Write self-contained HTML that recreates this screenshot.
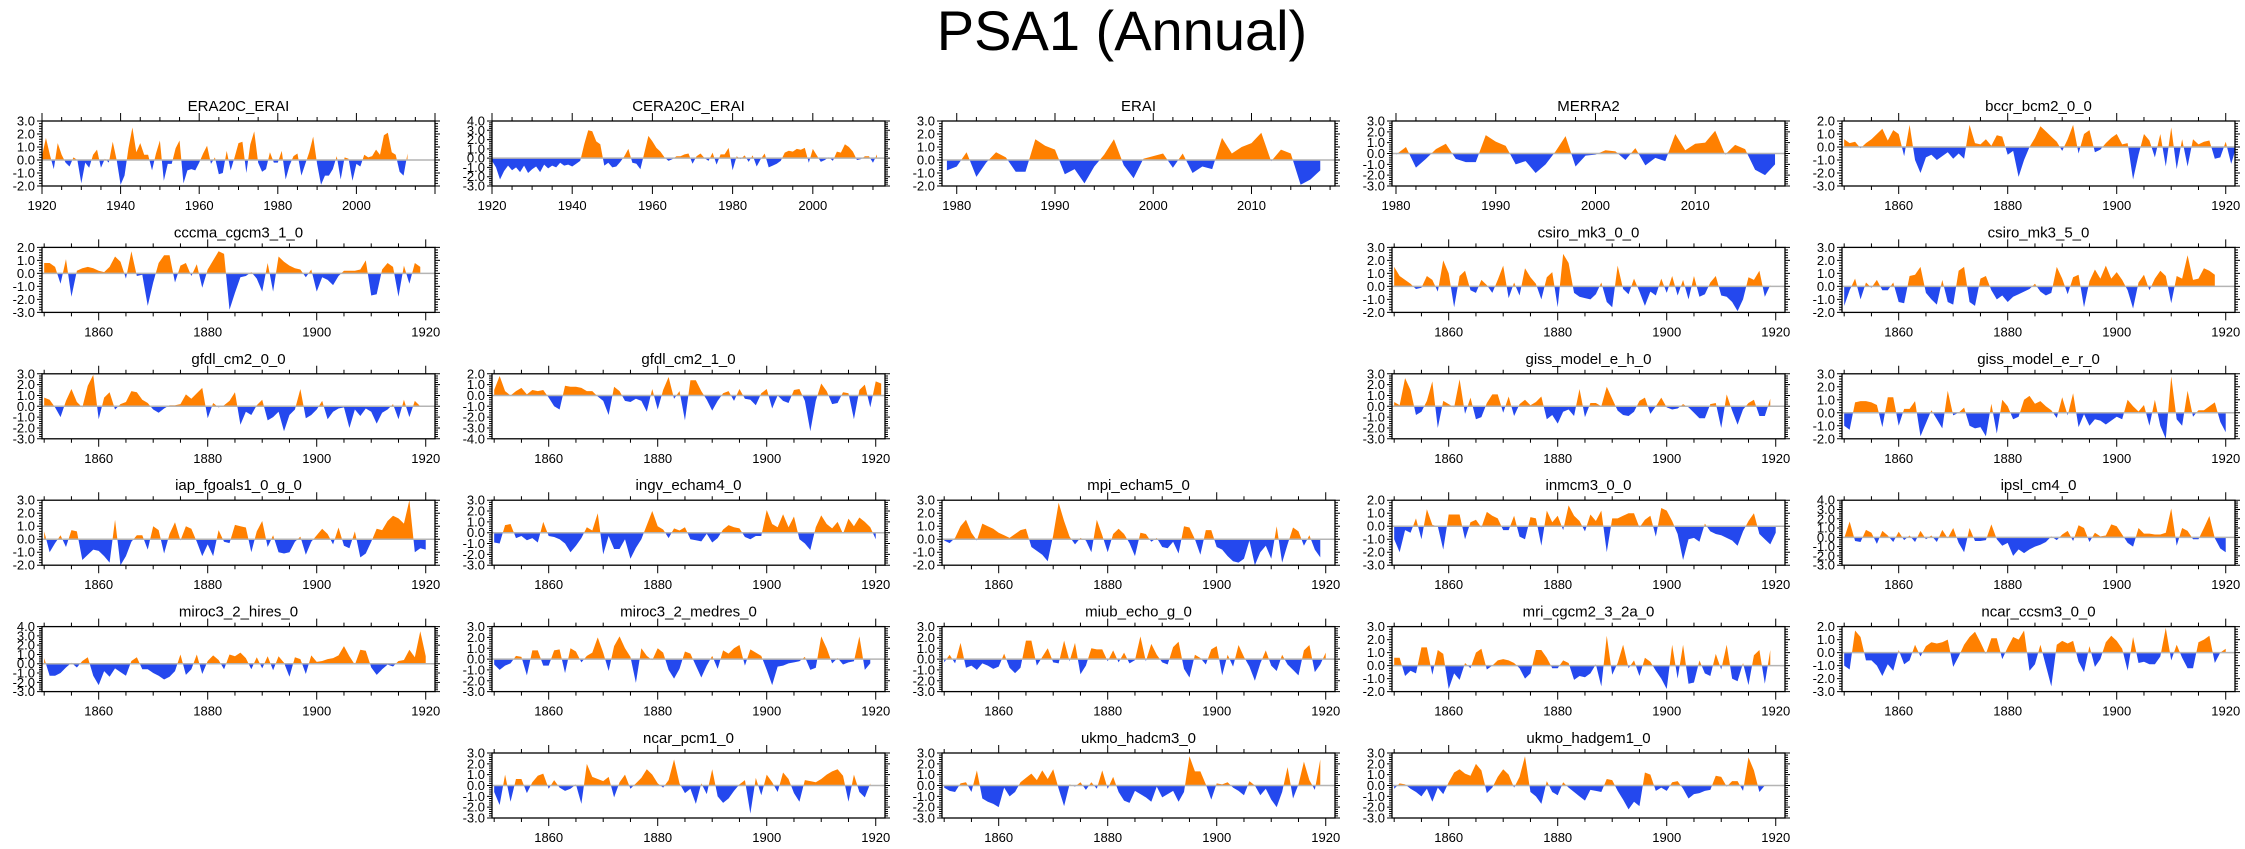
<!DOCTYPE html>
<html><head><meta charset="utf-8"><title>PSA1 (Annual)</title>
<style>html,body{margin:0;padding:0;background:#fff;}svg{display:block;font-family:"Liberation Sans",sans-serif;}</style>
</head><body>
<svg id="fig" width="2245" height="849" viewBox="0 0 2245 849" xmlns="http://www.w3.org/2000/svg">
<text x="1122" y="50" text-anchor="middle" font-size="56" fill="#000">PSA1 (Annual)</text>
</svg>
<script>
const panelTitles = ["ERA20C_ERAI","CERA20C_ERAI","ERAI","MERRA2","bccr_bcm2_0_0","cccma_cgcm3_1_0","csiro_mk3_0_0","csiro_mk3_5_0","gfdl_cm2_0_0","gfdl_cm2_1_0","giss_model_e_h_0","giss_model_e_r_0","iap_fgoals1_0_g_0","ingv_echam4_0","mpi_echam5_0","inmcm3_0_0","ipsl_cm4_0","miroc3_2_hires_0","miroc3_2_medres_0","miub_echo_g_0","mri_cgcm2_3_2a_0","ncar_ccsm3_0_0","ncar_pcm1_0","ukmo_hadcm3_0","ukmo_hadgem1_0"];
const panelRows = [0,0,0,0,0,1,1,1,2,2,2,2,3,3,3,3,3,4,4,4,4,4,5,5,5];
const panelCols = [0,1,2,3,4,0,3,4,0,1,3,4,0,1,2,3,4,0,1,2,3,4,1,2,3];
const startYears = [1920,1920,1979,1980,1850,1850,1850,1850,1850,1850,1850,1850,1850,1850,1850,1850,1850,1850,1850,1850,1850,1850,1850,1850,1850];
const yMax = [3,4,3,3,2,2,3,3,3,2,3,3,3,3,3,2,4,4,3,3,3,2,3,3,3];
const yMin = [-2,-3,-2,-3,-3,-3,-2,-2,-3,-4,-3,-2,-2,-3,-2,-3,-3,-3,-3,-3,-2,-3,-3,-3,-3];
const xDomains = [[1920,2020],[1920,2018],[1978.5,2018.5],[1979.6,2019],[1849.6,1921.7]];
const xTickLabels = [[1920,1940,1960,1980,2000],[1920,1940,1960,1980,2000],[1980,1990,2000,2010],[1980,1990,2000,2010],[1860,1880,1900,1920]];

const s0 = [0.3,1.7,0.4,-0.7,1.3,0.4,-0.2,-0.5,0.2,0.0,-1.8,-0.2,-0.6,0.4,0.8,-0.6,0.1,-0.2,1.4,0.0,-1.9,-1.2,0.9,2.5,0.6,1.3,0.4,0.4,-0.8,0.5,1.5,-1.6,-0.3,-0.3,0.9,1.5,-1.8,-0.8,-0.7,-0.8,-0.2,0.5,1.1,-0.3,0.2,-1.1,-1.0,0.7,-0.8,0.2,1.3,1.4,-1.0,1.2,2.2,-0.2,-0.9,-0.7,0.6,-0.2,-0.2,0.7,-1.5,-0.4,0.3,0.5,-1.2,-0.3,0.6,1.8,-0.3,-1.9,-1.2,-1.2,-0.7,0.3,-1.5,0.2,0.1,-1.6,-0.3,-0.5,0.4,0.2,0.3,0.8,0.4,1.9,2.1,0.6,0.4,-0.9,-1.2,0.5];
const s1 = [-0.3,-1.0,-2.3,-1.4,-0.8,-1.3,-1.0,-1.5,-0.8,-1.6,-1.2,-0.9,-1.5,-0.7,-1.1,-0.8,-1.0,-0.5,-0.8,-0.7,-0.9,-0.6,-0.3,1.5,3.0,2.9,1.8,1.5,-0.8,-0.5,-1.0,-0.9,-0.4,0.2,1.0,-0.5,-0.6,-1.2,0.6,2.4,1.8,1.1,0.7,0.1,-0.3,-0.1,0.2,0.2,0.4,0.5,-0.6,0.2,0.5,0.0,-0.3,0.6,-0.7,0.4,0.4,1.1,-1.3,0.2,-0.1,0.3,-0.4,0.3,-0.9,-0.1,0.5,-1.0,-0.8,-0.6,-0.3,0.6,0.8,0.7,1.0,0.9,1.1,-0.5,1.0,0.3,-0.4,-0.2,0.1,-0.3,0.7,0.6,1.5,1.2,0.7,-0.2,-0.1,0.2,0.2,-0.5,0.4];
const s2 = [-0.8,-0.5,0.6,-1.3,-0.2,0.6,0.2,-0.9,-0.9,1.6,1.1,0.8,-1.1,-0.7,-1.8,-0.5,0.4,1.6,-0.4,-1.4,0.1,0.3,0.5,-0.6,0.5,-1.0,-0.5,-0.7,1.7,0.5,1.0,1.3,2.1,-0.1,0.8,0.5,-1.9,-1.5,-0.8];
const s3 = [-0.1,0.6,-1.3,-0.5,0.4,0.9,-0.5,-0.8,-0.8,1.7,1.1,0.7,-1.0,-0.7,-1.8,-1.0,0.2,1.6,-1.2,-0.2,-0.1,0.3,0.2,-0.6,0.5,-1.1,-0.4,-0.7,1.8,0.3,0.9,1.0,2.1,-0.1,0.8,0.4,-1.5,-2.0,-1.0];
const s4 = [0.6,0.3,0.4,-0.1,0.3,0.6,1.0,1.4,0.5,1.3,1.0,-0.7,1.7,-1.0,-2.0,-0.8,-0.6,-1.0,-0.7,-0.4,-0.9,-0.5,-0.9,1.7,0.3,0.2,0.6,0.1,0.9,0.8,-0.6,-0.3,-2.3,-1.0,0.0,0.7,1.6,1.2,0.8,0.4,-0.3,0.6,1.7,-0.5,1.0,1.3,-0.4,-0.2,0.3,0.7,1.0,0.2,0.3,-2.5,-0.6,1.0,0.5,-0.8,1.0,-1.5,1.5,-1.7,0.6,-1.5,0.6,0.2,0.4,0.5,-0.9,-0.8,0.4,-1.3,0.1];
const s5 = [0.8,0.8,0.5,-0.8,1.1,-1.8,0.2,0.4,0.5,0.4,0.2,0.1,0.5,1.3,0.9,-0.4,1.7,-0.2,-0.1,-2.5,-0.7,0.8,1.4,1.4,-0.7,0.6,0.8,-0.2,0.7,-1.1,0.3,1.0,1.7,1.5,-2.8,-1.5,-0.3,-0.2,0.1,-0.4,-1.4,0.8,-1.4,1.3,0.9,0.6,0.4,0.3,-0.3,0.3,-1.4,-0.3,-0.5,-0.9,-0.2,0.2,0.2,0.2,0.3,1.0,-1.7,-1.6,0.3,0.8,0.5,-1.8,0.6,-0.8,0.8,0.5];
const s6 = [1.5,0.8,0.5,0.2,-0.2,-0.1,0.8,0.5,-0.4,2.0,1.0,-1.6,0.8,1.2,-0.3,-0.5,0.5,0.1,-0.5,0.5,1.6,-0.9,0.3,-0.7,1.4,0.7,0.2,-1.0,0.7,1.1,-1.6,2.5,1.8,-0.5,-0.8,-0.9,-1.0,-0.6,0.3,-1.2,-1.6,1.6,-0.2,-0.6,0.6,-0.4,-1.5,-0.4,-0.7,0.6,-0.5,0.8,-0.7,0.5,-1.0,0.8,-0.8,-0.6,0.3,0.8,-0.7,-0.8,-1.2,-1.9,-1.0,0.7,0.5,1.2,-0.8,0.1];
const s7 = [-1.5,-0.3,0.6,-1.0,0.3,-0.1,0.5,-0.3,-0.3,0.3,-1.2,-1.3,0.8,0.9,1.5,-0.5,-1.0,-1.4,0.5,-1.2,-1.4,1.2,1.5,-1.2,-1.5,0.6,0.8,-0.3,-1.0,-0.7,-1.2,-0.8,-0.6,-0.4,-0.2,0.2,-0.4,-0.7,-0.5,1.5,0.6,-0.6,0.7,0.9,-1.6,0.4,1.3,0.6,1.6,0.6,1.1,0.5,-0.3,-1.7,0.3,0.9,-0.3,0.6,1.2,0.8,-1.3,0.8,0.6,2.4,0.5,0.6,1.4,1.2,0.9];
const s8 = [0.8,0.6,-0.1,-1.0,0.5,1.6,0.4,-0.1,1.9,2.9,-1.2,0.8,1.3,-0.3,0.2,0.4,1.4,1.3,0.6,0.3,-0.3,-0.6,-0.2,0.1,0.1,0.2,1.1,0.7,1.2,1.7,-1.1,0.3,-0.1,0.1,0.5,1.3,-1.7,-0.5,-0.8,0.1,0.6,-1.3,-1.0,-0.5,-2.3,-0.8,-0.3,1.6,-1.1,-0.8,-0.3,0.5,-1.2,-0.5,-0.2,-0.1,-2.0,-0.3,-0.9,-0.2,-0.5,-1.6,-0.6,-0.3,0.2,-1.2,0.6,-1.0,0.5,0.0];
const s9 = [0.5,1.8,0.4,0.0,0.4,0.7,0.1,0.5,0.4,0.5,-0.2,-1.0,-1.3,0.9,0.8,0.8,0.7,0.4,0.4,-0.1,-0.5,-1.8,0.8,0.4,-0.5,-0.6,-0.3,-0.5,-1.5,0.6,-1.3,0.5,1.7,-0.3,0.4,-2.3,1.4,1.4,0.4,-0.4,-1.4,-0.5,0.2,0.4,-0.5,0.6,-0.3,-0.4,-0.9,0.2,0.6,-1.2,0.0,-0.5,-0.7,0.5,0.6,-0.5,-3.3,-0.5,1.1,0.4,-0.8,-0.7,0.3,0.2,-2.2,0.5,1.0,-1.1,1.3,1.1];
const s10 = [0.4,0.1,2.6,1.5,-0.8,-0.5,0.5,2.3,-2.0,0.5,0.2,-0.1,2.5,-0.7,0.8,-1.2,-1.0,0.3,1.1,1.1,-0.6,0.9,-0.9,0.2,0.6,0.1,0.4,0.9,-1.2,-0.8,-1.6,-0.5,-0.3,-0.9,1.6,-1.0,0.3,0.3,0.0,1.8,0.7,-0.4,-0.8,-0.9,-0.5,0.5,0.8,-0.7,0.0,0.8,-0.1,-0.3,-0.2,0.2,-0.1,-0.6,-1.1,-1.1,0.2,0.3,-2.0,1.1,-0.4,-1.7,-0.3,0.3,0.6,-0.9,-0.9,0.7];
const s11 = [-1.0,-1.3,0.8,0.9,0.9,0.8,0.6,-1.1,1.2,1.2,-1.0,0.3,0.3,0.9,-1.8,-0.8,0.2,-0.5,-1.2,1.7,-0.2,0.0,0.4,-1.0,-1.2,-1.1,-1.8,0.7,-1.6,1.0,0.5,-0.5,-0.3,1.0,1.3,0.7,0.9,0.5,0.2,-0.4,1.2,-0.2,1.5,-1.1,-0.1,-1.0,-0.5,-0.6,-0.9,-0.6,-0.3,-0.5,1.0,0.5,0.1,0.6,-1.0,1.0,-1.0,-2.0,2.8,-0.5,-1.0,1.7,-0.3,0.2,0.2,0.5,0.8,-0.7,-1.5];
const s12 = [0.6,-1.0,-0.3,0.3,-0.6,0.7,0.6,-1.6,-1.2,-0.8,-0.9,-1.3,-1.8,1.5,-2.0,-1.3,-0.2,0.3,0.3,-0.8,1.0,0.7,-1.1,0.4,1.3,-0.1,1.0,0.8,-0.2,-1.3,-0.4,-1.3,0.7,-0.2,-0.3,1.1,1.0,0.9,-1.0,0.6,1.4,-0.6,0.3,-1.0,-1.1,-1.0,-0.2,0.2,-1.2,-0.2,0.3,0.8,0.4,-0.4,0.9,-0.5,-0.7,0.6,-1.4,-1.1,-0.2,0.8,0.7,1.4,1.8,1.6,1.2,3.0,-1.0,-0.7,-0.8];
const s13 = [-0.9,-1.0,0.7,0.8,-0.5,-0.3,-0.7,-0.5,-0.9,1.0,-0.3,-0.4,-0.6,-1.0,-1.8,-1.2,-0.5,0.5,0.2,1.8,-2.0,-0.3,-1.5,-1.5,-0.6,-2.4,-1.4,-0.6,0.7,2.0,0.6,0.3,-0.5,0.4,0.2,0.5,-0.6,-0.7,-0.8,-0.1,-0.9,-0.5,0.3,0.7,0.5,0.4,-0.4,-0.6,-0.3,-0.3,2.1,0.8,0.5,1.7,0.5,1.5,-0.6,-1.0,-1.6,0.5,1.6,0.8,0.4,1.0,-0.1,1.3,0.6,1.4,1.0,0.5,-0.6];
const s14 = [-0.1,-0.3,0.1,1.0,1.5,0.5,-0.1,1.2,1.0,0.8,0.5,0.3,0.1,0.4,0.7,0.8,-0.6,-0.9,-1.2,-1.7,0.3,2.8,1.4,0.2,-0.4,0.1,-0.1,-1.0,1.5,0.3,-1.0,0.4,0.8,0.4,-0.3,-1.3,0.5,0.4,-0.2,0.1,-0.6,-0.7,-0.2,-1.1,1.0,0.9,0.0,-1.2,0.7,0.7,-0.6,-0.8,-1.3,-1.7,-1.8,-1.5,-0.1,-2.0,-1.0,-0.5,-1.5,1.0,-1.8,-0.4,0.9,0.6,-0.5,0.3,-0.8,-1.4];
const s15 = [-1.0,-2.0,-0.3,-0.5,0.6,-1.0,1.3,0.1,0.0,-1.8,0.9,0.9,0.9,-1.0,0.3,0.5,-0.1,1.1,0.8,0.6,-0.3,-0.3,0.8,-0.8,-1.0,0.7,0.6,-1.5,1.2,0.3,0.8,-0.3,1.6,0.8,0.4,-0.4,0.9,0.4,1.2,-2.0,0.6,0.6,0.8,1.0,1.0,-0.1,0.5,0.8,-0.8,1.4,1.2,0.4,-0.6,-2.6,-1.0,-0.9,-1.2,0.2,-0.4,-0.6,-0.7,-0.9,-1.1,-1.5,-0.4,0.4,1.0,-0.6,-1.0,-1.4,-0.5];
const s16 = [-0.1,1.7,-0.4,-0.5,0.8,0.5,-0.7,0.7,0.2,-0.5,0.6,-0.3,0.2,-0.5,0.7,-0.2,0.2,-0.5,0.8,-0.1,1.0,-0.6,-1.6,1.0,-0.4,-0.4,-0.3,1.4,-0.2,-0.9,-0.6,-2.0,-1.3,-1.7,-1.3,-1.0,-0.8,-0.5,0.1,-0.3,0.3,0.7,-0.4,1.3,1.0,-0.5,0.5,0.1,0.2,1.4,1.2,0.3,-0.6,-1.0,1.0,0.4,0.4,0.3,0.3,0.5,3.1,-0.9,1.0,0.7,-0.2,-0.2,1.0,2.3,-0.1,-1.2,-1.6];
const s17 = [0.6,-1.3,-1.3,-1.0,-0.4,0.1,-0.4,0.3,0.7,-1.3,-2.3,-0.8,-1.4,-0.5,-0.9,-1.3,0.3,0.7,-0.6,-0.6,-1.0,-1.3,-1.7,-1.4,-0.8,1.0,-1.2,-0.6,1.0,-1.1,0.3,0.9,0.4,-0.6,1.0,0.8,1.2,0.6,-0.6,0.7,-0.5,0.8,-0.7,0.8,0.1,-1.4,0.7,0.5,-1.1,0.9,0.2,0.3,0.5,0.6,0.9,1.9,0.8,-0.1,1.5,1.4,-0.4,-1.2,-0.6,-0.1,-0.3,0.3,0.4,1.5,0.7,3.5,0.8];
const s18 = [-0.5,-1.0,-0.6,-0.4,0.3,0.2,-1.5,0.8,0.8,-0.6,-0.6,0.8,0.9,-1.3,1.0,0.7,-0.3,0.3,0.6,2.0,0.6,-1.1,1.2,2.1,1.0,0.2,-2.2,1.0,0.3,-0.1,1.0,0.6,-1.0,-1.8,-0.9,0.7,0.5,-0.6,-1.7,-0.6,0.3,-0.9,0.8,0.5,1.0,1.3,-0.6,0.9,0.6,0.3,-1.0,-2.4,-0.7,-0.6,-0.4,-0.3,-0.2,0.2,-1.0,-0.8,2.1,1.0,-0.4,0.1,-0.5,-0.3,-0.2,2.1,-1.0,-0.4];
const s19 = [-0.3,0.4,-0.4,1.5,-0.8,-0.6,-1.0,-0.4,-0.6,-0.9,-0.7,0.5,-0.8,-1.3,-0.8,1.7,1.7,-0.6,0.2,1.0,-0.3,-0.4,1.7,-0.2,1.5,-1.4,-0.6,1.0,0.9,0.9,-0.2,0.8,-0.3,0.6,-0.4,-0.1,2.1,-0.2,1.4,0.4,-0.3,-0.5,1.1,1.6,-0.9,-1.7,0.4,0.1,-0.5,0.9,1.2,-1.5,0.4,-0.7,1.3,0.2,-0.7,-2.0,-0.4,0.8,-0.6,-1.1,0.4,-0.5,-1.0,-1.5,0.8,1.3,-1.2,-0.5,0.6];
const s20 = [0.6,0.6,-0.8,-0.4,-0.6,1.4,1.4,-0.7,1.2,0.9,-1.8,-0.6,-1.1,0.2,-0.2,1.0,1.3,-0.3,0.0,0.4,0.5,0.4,0.2,-0.2,-1.0,-0.6,1.2,1.2,0.6,-0.2,-0.2,0.4,0.2,-1.1,-0.8,-0.9,-0.6,0.1,-1.6,2.3,-0.7,0.2,1.6,-0.2,0.4,-0.8,0.6,0.3,-0.4,-1.0,-1.8,1.6,-1.0,1.6,-1.4,-1.3,0.4,-0.6,-0.8,0.9,-0.3,1.6,-1.0,-1.2,0.2,-1.5,0.8,1.2,-1.4,1.2];
const s21 = [-1.0,-1.3,1.7,1.2,-0.6,-0.6,-1.0,-1.8,-0.9,-1.4,0.2,-0.9,-0.6,0.6,-0.3,0.5,0.8,0.7,0.8,1.0,-1.1,-0.3,0.6,1.2,1.6,0.8,-0.1,1.1,1.1,-0.5,0.4,1.2,1.0,1.7,-1.4,-0.9,0.6,-1.0,-2.6,0.6,0.9,0.7,0.9,-0.7,-1.5,0.5,-1.1,-0.5,0.8,1.3,0.9,0.3,-1.4,1.2,-0.8,-0.7,-0.9,-0.9,-0.3,1.9,-0.6,0.6,-0.4,-1.2,-1.2,0.8,1.0,1.3,-0.8,0.0,0.3];
const s22 = [-0.6,-1.8,1.0,-1.5,0.6,0.6,-0.7,0.3,0.9,1.1,-0.3,0.5,-0.2,-0.5,-0.3,0.1,-1.7,2.0,0.8,0.6,0.4,0.8,-1.1,0.3,1.0,-0.3,0.2,0.7,1.5,1.0,0.2,-0.2,0.5,2.4,0.2,-0.7,-0.3,-1.7,0.2,-0.8,1.5,-1.0,-1.6,-1.2,-0.5,0.1,0.5,-2.6,0.7,-0.9,1.0,0.3,-0.6,1.2,0.6,-0.7,-1.5,0.5,0.4,0.3,0.6,1.0,1.3,1.5,0.9,-1.5,1.0,-0.6,-1.1,0.2];
const s23 = [-0.2,-0.5,-0.6,0.2,0.3,-0.6,1.4,-1.2,-1.5,-1.7,-2.0,-0.2,-1.0,-0.6,0.3,0.7,1.1,0.5,1.4,0.6,1.5,-0.3,-1.9,0.1,-0.1,0.3,-0.4,0.3,-0.3,1.4,-0.3,0.8,-0.6,-1.4,-1.6,-0.5,-0.8,-1.1,-1.5,-0.1,-1.1,-0.8,-0.5,-1.5,-0.6,2.7,1.3,1.3,0.1,-1.3,0.2,0.1,0.3,-0.2,-0.5,-0.9,0.4,0.0,-0.9,-0.3,-1.3,-2.0,-0.6,1.7,-1.2,0.1,2.2,0.5,-0.4,2.4];
const s24 = [-0.3,0.2,0.1,-0.3,-0.6,-1.0,-0.3,-1.5,-0.2,-0.8,0.3,1.2,1.5,1.1,0.9,2.0,1.4,-0.7,-0.2,0.8,1.5,1.0,-0.2,0.8,2.7,-0.6,-1.0,-1.7,0.4,-0.6,-0.9,0.3,-0.2,-0.6,-1.0,-1.4,-0.4,-0.5,-0.6,0.6,0.5,-0.5,-1.3,-2.2,-1.5,-1.9,1.2,1.0,-0.5,-0.2,-0.5,0.3,0.4,-0.3,-1.2,-0.8,-0.7,-0.5,-0.4,0.9,0.8,-0.1,0.4,0.4,-0.5,2.6,1.4,-0.6,0.0];
const seriesList = [s0,s1,s2,s3,s4,s5,s6,s7,s8,s9,s10,s11,s12,s13,s14,s15,s16,s17,s18,s19,s20,s21,s22,s23,s24];

const NS = "http://www.w3.org/2000/svg";
const svg = document.getElementById("fig");
const BOX_W = 393, BOX_H = 65;
function mk(tag, attrs, parent) {
  const e = document.createElementNS(NS, tag);
  for (const k in attrs) e.setAttribute(k, attrs[k]);
  parent.appendChild(e);
  return e;
}
function fmt(v) { return (v < 0 ? "-" : "") + Math.abs(v).toFixed(1); }

for (let p = 0; p < panelTitles.length; p++) {
  const L = 42 + 450 * panelCols[p];
  const T = 121 + 126.4 * panelRows[p];
  const dom = p < 4 ? xDomains[p] : xDomains[4];
  const labels = p < 4 ? xTickLabels[p] : xTickLabels[4];
  const xs = v => L + (v - dom[0]) / (dom[1] - dom[0]) * BOX_W;
  const ys = v => T + (yMax[p] - v) / (yMax[p] - yMin[p]) * BOX_H;
  const data = seriesList[p];
  const g = mk("g", {}, svg);
  
  

  const t = mk("text", {x: L + BOX_W / 2, y: T - 10, "text-anchor": "middle", "font-size": 15, fill: "#000"}, g);
  t.textContent = panelTitles[p];
  
  

  const defs = mk("defs", {}, g);
  const y0 = ys(0);
  const cpUp = mk("clipPath", {id: "up" + p}, defs);
  mk("rect", {x: L, y: T, width: BOX_W, height: y0 - T}, cpUp);
  const cpDn = mk("clipPath", {id: "dn" + p}, defs);
  mk("rect", {x: L, y: y0, width: BOX_W, height: T + BOX_H - y0}, cpDn);

  let pts = xs(startYears[p]).toFixed(2) + "," + y0.toFixed(2) + " ";
  for (let i = 0; i < data.length; i++) pts += xs(startYears[p] + i).toFixed(2) + "," + ys(data[i]).toFixed(2) + " ";
  pts += xs(startYears[p] + data.length - 1).toFixed(2) + "," + y0.toFixed(2);
  const pos = mk("polygon", {points: pts, fill: "#ff8000", "clip-path": "url(#up" + p + ")"}, g);
  
  
  const neg = mk("polygon", {points: pts, fill: "#2448ee", "clip-path": "url(#dn" + p + ")"}, g);
  
  
  const zl = mk("line", {x1: L, x2: L + BOX_W, y1: y0, y2: y0, stroke: "#b4b4b4", "stroke-width": 1.5}, g);
  
  

  const box = mk("rect", {x: L, y: T, width: BOX_W, height: BOX_H, fill: "none", stroke: "#000", "stroke-width": 1.3}, g);
  
  

  let tp = "";
  for (let k = Math.round(yMin[p] * 5); k <= Math.round(yMax[p] * 5); k++) {
    const v = k / 5, yy = ys(v), major = (k % 5 === 0), len = major ? 5 : 3;
    tp += "M" + L + "," + yy + "h-" + len + "M" + (L + BOX_W) + "," + yy + "h" + len;
    if (major) {
      const yl = mk("text", {x: L - 7, y: yy + 4.5, "text-anchor": "end", "font-size": 13, fill: "#000"}, g);
      yl.textContent = fmt(v);
      
      
    }
  }
  const majorStep = (p === 2 || p === 3) ? 10 : 20;
  const minorStep = (p === 2 || p === 3) ? 2 : 5;
  const firstMinor = Math.ceil(dom[0] / minorStep) * minorStep;
  for (let yr = firstMinor; yr <= dom[1] + 0.01; yr += minorStep) {
    const xx = xs(yr), major = (yr % majorStep === 0), len = major ? 8 : 4;
    tp += "M" + xx + "," + T + "v-" + len + "M" + xx + "," + (T + BOX_H) + "v" + len;
  }
  const ticks = mk("path", {d: tp, stroke: "#000", "stroke-width": 1, fill: "none"}, g);
  
  
  for (const yr of labels) {
    const xl = mk("text", {x: xs(yr), y: T + BOX_H + 24, "text-anchor": "middle", "font-size": 13, fill: "#000"}, g);
    xl.textContent = yr;
    
    
  }
}
</script>
</body></html>
